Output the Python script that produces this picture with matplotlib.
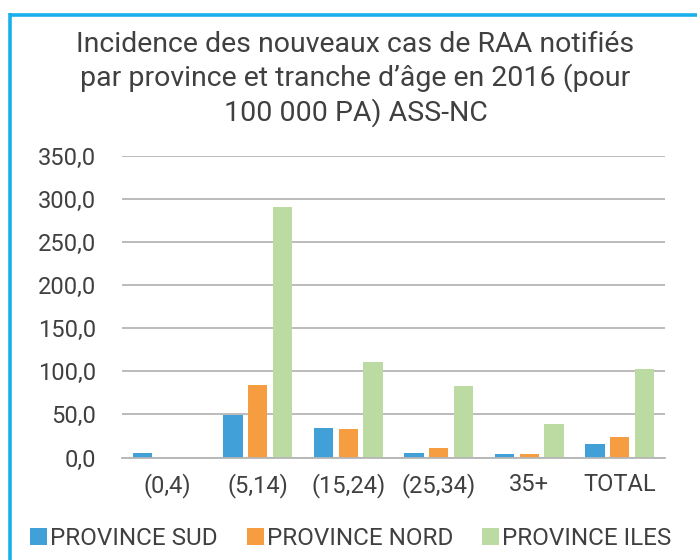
import matplotlib
matplotlib.use("Agg")
import matplotlib.pyplot as plt
import numpy as np
from matplotlib.lines import Line2D

categories = ["(0,4)", "(5,14)", "(15,24)", "(25,34)", "35+", "TOTAL"]
series_names = ["PROVINCE SUD", "PROVINCE NORD", "PROVINCE ILES"]
sud = [5.0, 49.1, 34.8, 5.0, 4.2, 15.5]
nord = [0.0, 84.2, 32.8, 10.8, 4.2, 23.6]
iles = [0.0, 291.2, 110.9, 82.7, 39.0, 103.1]
yticks = [0, 50, 100, 150, 200, 250, 300, 350]
ytick_labels = ["0,0", "50,0", "100,0", "150,0", "200,0", "250,0", "300,0", "350,0"]
title = "Incidence des nouveaux cas de RAA notifiés\npar province et tranche d’âge en 2016 (pour\n100 000 PA) ASS-NC"

colors = ["#41A0D7", "#F79D41", "#BBDBA3"]
text_color = "#404040"
grid_color = "#B5B5B5"
border_color = "#17B0EA"

plt.rcParams['font.family'] = ['Roboto', 'DejaVu Sans']

W, H = 697, 560
fig = plt.figure(figsize=(W / 100, H / 100), dpi=100)
fig.patch.set_facecolor("white")

left, right, bottom_px, top_px = 122, 665, 457.5, 156
ax = fig.add_axes([left / W, 1 - bottom_px / H, (right - left) / W, (bottom_px - top_px) / H])

x = np.arange(len(categories))
width = 0.215
offsets = [-0.275, 0.0, 0.275]
handles = []
for vals, off, col, name in zip([sud, nord, iles], offsets, colors, series_names):
    b = ax.bar(x + off, vals, width=width, color=col, label=name, zorder=3, linewidth=0)
    handles.append(b)

ax.set_xlim(-0.5, len(categories) - 0.5)
ax.set_ylim(0, 350)
ax.set_yticks(yticks)
ax.set_yticklabels(ytick_labels)
ax.set_xticks(x)
ax.set_xticklabels(categories)
ax.tick_params(axis='y', length=0, pad=18.5, labelsize=17, labelcolor=text_color)
ax.tick_params(axis='x', length=0, pad=11, labelsize=17, labelcolor=text_color)
ax.yaxis.grid(True, color=grid_color, linewidth=1.3, zorder=0)
ax.set_axisbelow(True)
for s in ["top", "right", "left"]:
    ax.spines[s].set_visible(False)
ax.spines["bottom"].set_color(grid_color)
ax.spines["bottom"].set_linewidth(1.3)
ax.spines["bottom"].set_zorder(4)

fig.text(355.5 / W, 1 - 79 / H, title, ha="center", va="center", fontsize=20.5,
         color=text_color, linespacing=1.24)

leg = fig.legend(handles=handles, labels=series_names, loc="center left",
                 bbox_to_anchor=(30 / W, 1 - 538.5 / H), ncol=3, frameon=False,
                 fontsize=17.5, handlelength=0.7, handleheight=0.7,
                 handletextpad=0.12, columnspacing=1.2, borderpad=0, borderaxespad=0)
for t in leg.get_texts():
    t.set_color(text_color)

# frame lines (top and left), as in the reference
fig.add_artist(Line2D([9.8 / W, 1.0], [1 - 14.5 / H, 1 - 14.5 / H], color=border_color,
                      linewidth=2.6, transform=fig.transFigure, solid_capstyle="butt"))
fig.add_artist(Line2D([9.8 / W, 9.8 / W], [1 - 13.2 / H, 0.0], color=border_color,
                      linewidth=2.6, transform=fig.transFigure, solid_capstyle="butt"))

fig.savefig("out.png", dpi=100, facecolor="white")
